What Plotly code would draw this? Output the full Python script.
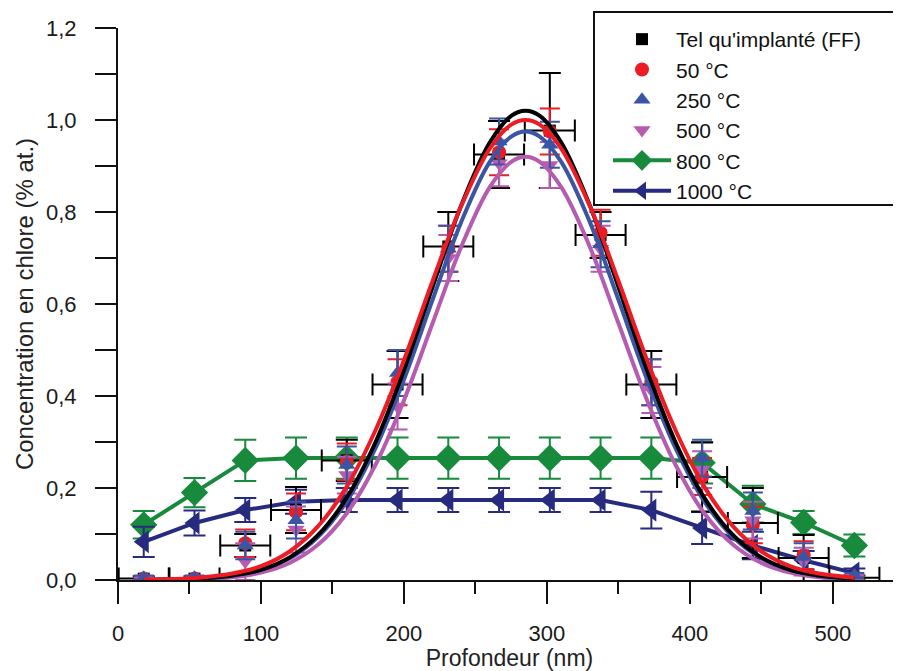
import plotly.graph_objects as go

# ---------------- data ----------------
depth = [18, 53.5, 89, 124.5, 160, 195.5, 231, 266.5, 302, 337.5, 373, 408.5, 444, 479.5, 515]
depth_err = [17.5] * 15

ff_vals = [0.003, 0.003, 0.075, 0.152, 0.26, 0.425, 0.725, 0.925, 0.977, 0.75, 0.425, 0.224, 0.124, 0.048, 0.005]
ff_err = [0.005, 0.005, 0.025, 0.05, 0.045, 0.073, 0.075, 0.073, 0.125, 0.05, 0.073, 0.075, 0.076, 0.05, 0.005]

t50_vals = [0.003, 0.003, 0.08, 0.148, 0.257, 0.43, 0.72, 0.93, 0.975, 0.755, 0.43, 0.225, 0.12, 0.054, 0.005]
t50_err = [0.005, 0.005, 0.03, 0.04, 0.04, 0.05, 0.05, 0.05, 0.05, 0.05, 0.05, 0.04, 0.04, 0.03, 0.005]

t250_vals = [0.005, 0.005, 0.075, 0.13, 0.25, 0.45, 0.72, 0.953, 0.946, 0.73, 0.43, 0.265, 0.15, 0.05, 0.01]
t250_err = [0.005, 0.005, 0.03, 0.04, 0.04, 0.05, 0.05, 0.05, 0.05, 0.05, 0.05, 0.04, 0.04, 0.03, 0.005]

t500_vals = [0.0, 0.0, 0.04, 0.11, 0.228, 0.377, 0.70, 0.906, 0.902, 0.72, 0.413, 0.24, 0.13, 0.04, 0.005]
t500_err = [0.005, 0.005, 0.04, 0.05, 0.04, 0.05, 0.05, 0.05, 0.05, 0.05, 0.05, 0.04, 0.04, 0.03, 0.005]

t800_vals = [0.12, 0.19, 0.26, 0.265, 0.265, 0.265, 0.265, 0.265, 0.265, 0.265, 0.265, 0.255, 0.165, 0.125, 0.075]
t800_err = [0.03, 0.032, 0.045, 0.045, 0.045, 0.045, 0.045, 0.045, 0.045, 0.045, 0.045, 0.045, 0.04, 0.025, 0.024]

t1000_vals = [0.083, 0.124, 0.152, 0.17, 0.174, 0.174, 0.174, 0.174, 0.174, 0.174, 0.152, 0.113, 0.075, 0.043, 0.015]
t1000_err = [0.033, 0.027, 0.026, 0.026, 0.026, 0.026, 0.026, 0.026, 0.026, 0.026, 0.04, 0.035, 0.03, 0.02, 0.01]

# fitted profiles
fit_x = [18, 40, 60, 80, 100, 120, 140, 160, 180, 200, 220, 240, 260, 275, 285,
         295, 310, 330, 350, 370, 390, 410, 430, 450, 470, 490, 515]
fit_ff = [0.000, 0.001, 0.004, 0.010, 0.022, 0.049, 0.098, 0.179, 0.299, 0.456, 0.637, 0.814, 0.951, 1.009, 1.020,
          1.009, 0.951, 0.814, 0.637, 0.456, 0.299, 0.179, 0.098, 0.049, 0.022, 0.010, 0.003]
fit_50 = [0.001, 0.002, 0.006, 0.014, 0.030, 0.062, 0.117, 0.203, 0.325, 0.478, 0.650, 0.813, 0.938, 0.990, 1.000,
          0.990, 0.938, 0.813, 0.650, 0.478, 0.325, 0.203, 0.117, 0.062, 0.030, 0.014, 0.005]
fit_250 = [0.000, 0.001, 0.003, 0.009, 0.022, 0.047, 0.094, 0.171, 0.286, 0.436, 0.609, 0.778, 0.909, 0.964, 0.975,
           0.964, 0.909, 0.778, 0.609, 0.436, 0.286, 0.171, 0.094, 0.047, 0.022, 0.009, 0.003]
fit_500 = [0.000, 0.001, 0.002, 0.006, 0.016, 0.037, 0.077, 0.145, 0.250, 0.391, 0.558, 0.724, 0.854, 0.909, 0.920,
           0.909, 0.854, 0.724, 0.558, 0.391, 0.250, 0.145, 0.077, 0.037, 0.016, 0.006, 0.002]

names = ["Tel qu'implanté (FF)", "50 °C", "250 °C", "500 °C", "800 °C", "1000 °C"]

C_BLACK = "#000000"
C_RED = "#ED1C24"
C_BLUE = "#3B55A5"
C_MAG = "#B55CB1"
C_GREEN = "#178A3C"
C_NAVY = "#272B80"

fig = go.Figure()

def eb(arr, color, w=10):
    return dict(type="data", array=arr, color=color, thickness=2, width=w, visible=True)

# 800 and 1000 with lines
fig.add_trace(go.Scatter(x=depth, y=t800_vals, name=names[4], mode="lines+markers", legendrank=5,
                         line=dict(color=C_GREEN, width=4),
                         marker=dict(symbol="diamond", size=21, color=C_GREEN),
                         error_y=eb(t800_err, C_GREEN, 11)))
fig.add_trace(go.Scatter(x=depth, y=t1000_vals, name=names[5], mode="lines+markers", legendrank=6,
                         line=dict(color=C_NAVY, width=4),
                         marker=dict(symbol="triangle-left", size=20, color=C_NAVY),
                         error_y=eb(t1000_err, C_NAVY, 11)))

# scatter points
fig.add_trace(go.Scatter(x=depth, y=ff_vals, name=names[0], mode="markers", legendrank=1,
                         marker=dict(symbol="square", size=12, color=C_BLACK),
                         error_y=eb(ff_err, C_BLACK, 11),
                         error_x=dict(type="data", array=depth_err, color=C_BLACK, thickness=2, width=11)))
fig.add_trace(go.Scatter(x=depth, y=t50_vals, name=names[1], mode="markers", legendrank=2,
                         marker=dict(symbol="circle", size=14, color=C_RED),
                         error_y=eb(t50_err, C_RED)))
fig.add_trace(go.Scatter(x=depth, y=t500_vals, name=names[3], mode="markers", legendrank=4,
                         marker=dict(symbol="triangle-down", size=15, color=C_MAG),
                         error_y=eb(t500_err, C_MAG)))
fig.add_trace(go.Scatter(x=depth, y=t250_vals, name=names[2], mode="markers", legendrank=3,
                         marker=dict(symbol="triangle-up", size=15, color=C_BLUE),
                         error_y=eb(t250_err, C_BLUE)))

# fitted curves
for ys, col in [(fit_500, C_MAG), (fit_250, C_BLUE), (fit_ff, C_BLACK), (fit_50, C_RED)]:
    fig.add_trace(go.Scatter(x=fit_x, y=ys, mode="lines", showlegend=False, hoverinfo="skip",
                             line=dict(color=col, width=4, shape="spline", smoothing=1.0)))

FONT = "Liberation Sans, Arial, sans-serif"

# the page body adds an 8 px offset: figure spans page pixels 8..901 / 8..671
fig.update_layout(
    width=893, height=663,
    margin=dict(l=110, r=0, t=20, b=91, autoexpand=False),
    paper_bgcolor="white", plot_bgcolor="white",
    separators=",.",
    font=dict(family=FONT, size=22, color="#1a1a1a"),
    showlegend=True,
    legend=dict(x=0.6258, y=1.0163, xanchor="left", yanchor="top",
                bgcolor="rgba(0,0,0,0)", borderwidth=0,
                font=dict(family=FONT, size=21, color="#111"),
                itemwidth=58, tracegroupgap=0, itemsizing="trace"),
    shapes=[dict(type="rect", xref="paper", yref="paper",
                 x0=(594 - 118) / 783, x1=1.05, y0=(580 - 205) / 552, y1=(580 - 12) / 552,
                 line=dict(color="#111", width=2), fillcolor="white", layer="below")],
)

fig.update_xaxes(
    range=[0, 547.6], showgrid=False, zeroline=False,
    showline=True, linecolor="#111", linewidth=2,
    ticks="outside", ticklen=22, tickwidth=2, tickcolor="#111",
    tickvals=[0, 100, 200, 300, 400, 500], ticktext=["0", "100", "200", "300", "400", "500"],
    ticklabelstandoff=11,
    minor=dict(ticks="outside", ticklen=12, tickwidth=2, tickcolor="#111", tickvals=[50, 150, 250, 350, 450]),
    tickfont=dict(family=FONT, size=22, color="#1a1a1a"),
    title=dict(text="Profondeur (nm)", font=dict(family=FONT, size=23, color="#222"), standoff=7),
)
fig.update_yaxes(
    range=[0, 1.2], showgrid=False, zeroline=False,
    showline=True, linecolor="#111", linewidth=2,
    ticks="outside", ticklen=21, tickwidth=2, tickcolor="#111",
    tickvals=[0, 0.2, 0.4, 0.6, 0.8, 1.0, 1.2], tickformat=".1f",
    ticklabelstandoff=14,
    minor=dict(ticks="outside", ticklen=21, tickwidth=2, tickcolor="#111", tickvals=[0.1, 0.3, 0.5, 0.7, 0.9, 1.1]),
    tickfont=dict(family=FONT, size=22, color="#1a1a1a"),
    title=dict(text="Concentration en chlore (% at.)", font=dict(family=FONT, size=24, color="#222"), standoff=6),
)

fig.write_html("out.html")
